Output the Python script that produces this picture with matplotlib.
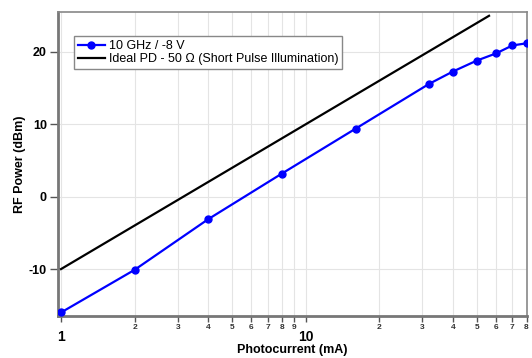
import matplotlib
matplotlib.use('Agg')
import matplotlib.pyplot as plt
from matplotlib.ticker import FixedLocator, FuncFormatter

plt.rcParams['font.family'] = ['Liberation Sans', 'DejaVu Sans']
plt.rcParams['axes.unicode_minus'] = False

# measured data (10 GHz, -8 V bias)
current_ma = [1, 2, 4, 8, 16, 32, 40, 50, 60, 70, 80]
rf_power_dbm = [-16.0, -10.1, -3.1, 3.2, 9.4, 15.6, 17.3, 18.8, 19.8, 20.9, 21.2]

# ideal photodiode, 50 ohm load (short pulse illumination)
ideal_current_ma = [1, 56.2]
ideal_power_dbm = [-10.0, 25.0]

major_x = [1, 10]
minor_x = [2, 3, 4, 5, 6, 7, 8, 9, 20, 30, 40, 50, 60, 70, 80]
y_ticks = [-10, 0, 10, 20]

fig = plt.figure(figsize=(5.32, 3.58), dpi=100)
ax = fig.add_subplot(111)
fig.subplots_adjust(left=0.109, right=0.991, top=0.966, bottom=0.117)

ax.plot(current_ma, rf_power_dbm, color='#0000ff', lw=1.6, marker='o', ms=5,
        label='10 GHz / -8 V', zorder=3)
ax.plot(ideal_current_ma, ideal_power_dbm, color='black', lw=1.6,
        label='Ideal PD - 50 \u03a9 (Short Pulse Illumination)', zorder=3)

ax.set_xscale('log')
ax.set_xlim(0.972, 80.5)
ax.set_ylim(-16.5, 25.5)

ax.xaxis.set_major_locator(FixedLocator(major_x))
ax.xaxis.set_minor_locator(FixedLocator(minor_x))
ax.xaxis.set_major_formatter(FuncFormatter(lambda v, p: '%d' % v))
ax.xaxis.set_minor_formatter(FuncFormatter(lambda v, p: '%d' % int(round(v / (10 if v >= 10 else 1)))))
ax.set_yticks(y_ticks)

ax.tick_params(axis='x', which='major', direction='out', length=4, width=1, color='#555555',
               labelsize=10, pad=6)
ax.tick_params(axis='x', which='minor', direction='out', length=4, width=1, color='#555555',
               labelsize=6, pad=1.5)
ax.tick_params(axis='y', which='major', direction='out', length=6, width=1, color='#555555',
               labelsize=9, pad=2)
for lab in ax.get_xticklabels() + ax.get_yticklabels():
    lab.set_fontweight('bold')
for lab in ax.get_xticklabels(minor=True):
    lab.set_fontweight('bold')
    lab.set_color('#333333')

ax.grid(True, which='both', axis='x', color='#e4e4e4', lw=0.8)
ax.grid(True, which='major', axis='y', color='#e4e4e4', lw=0.8)
ax.set_axisbelow(True)

for side in ['top', 'right']:
    ax.spines[side].set_color('#888888')
    ax.spines[side].set_linewidth(1.2)
for side in ['left', 'bottom']:
    ax.spines[side].set_color('#777777')
    ax.spines[side].set_linewidth(2)

ax.set_xlabel('Photocurrent (mA)', fontsize=9, fontweight='bold', va='center')
ax.xaxis.set_label_coords(0.5, -0.112)
ax.set_ylabel('RF Power (dBm)', fontsize=9, fontweight='bold', va='center')
ax.yaxis.set_label_coords(-0.081, 0.5)

leg = ax.legend(loc='upper left', bbox_to_anchor=(0.034, 0.921), fontsize=9,
                frameon=True, fancybox=False, edgecolor='#888888', framealpha=1,
                borderpad=0.3, handlelength=2.2, handletextpad=0.3, labelspacing=0.1,
                borderaxespad=0)
leg.get_frame().set_linewidth(1)

plt.savefig('out.png', dpi=100, facecolor='white')
